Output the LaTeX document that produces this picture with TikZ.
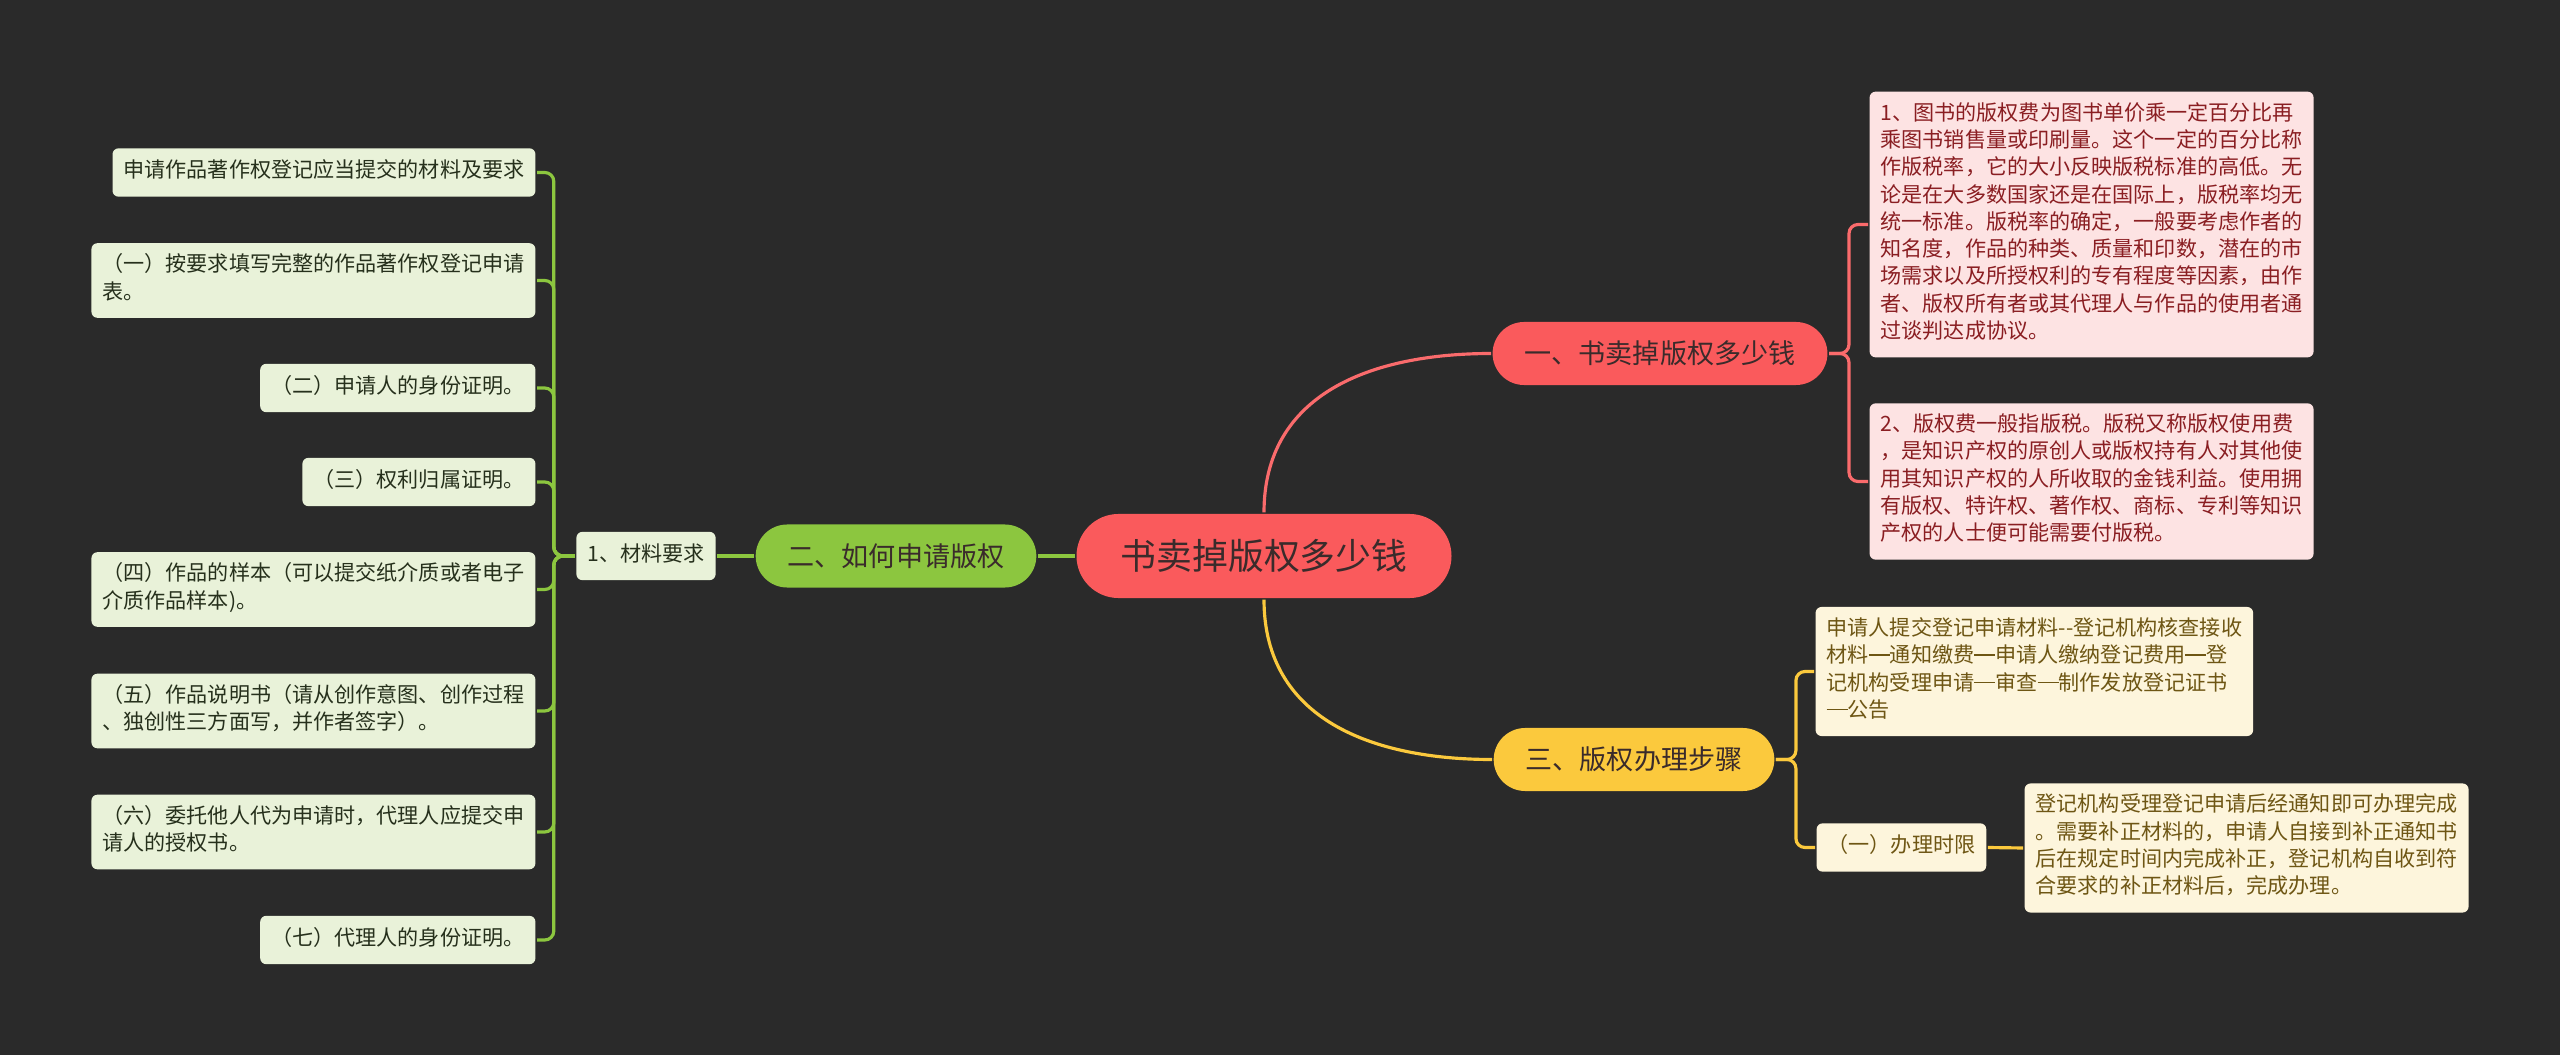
\documentclass[tikz,border=0pt]{standalone}
\usepackage{fontspec}
\setmainfont{Noto Sans CJK SC}
\usepackage{xcolor}
\usepackage{tikz}
\usetikzlibrary{positioning}
\definecolor{MapBg}{HTML}{2A2A2A}
\definecolor{MapRed}{HTML}{FA5A5C}
\definecolor{MapGreen}{HTML}{8CC63F}
\definecolor{MapYellow}{HTML}{FBC93D}
\definecolor{RedLeaf}{HTML}{FDE3E3}
\definecolor{GreenLeaf}{HTML}{E9F2D9}
\definecolor{YellowLeaf}{HTML}{FDF5DC}
\definecolor{RedInk}{HTML}{8A1E22}
\definecolor{GreenInk}{HTML}{26301C}
\definecolor{YellowInk}{HTML}{6E5614}
\definecolor{MapInk}{HTML}{3A2B2B}
\newcommand\wdash{\rule[0.33em]{1em}{0.07em}}

\begin{document}
\begin{tikzpicture}[x=0.01cm, y=-0.01cm, line width=0.9pt,
  root/.style={rounded corners=0.42cm, fill=MapRed, text=MapInk, minimum height=0.84cm, inner xsep=0.44cm, font=\fontsize{10.2}{12}\selectfont},
  topic/.style={rounded corners=0.315cm, minimum height=0.63cm, inner xsep=0.32cm, text=MapInk, font=\fontsize{7.7}{9}\selectfont},
  leaf/.style={rounded corners=0.06cm, align=left, inner xsep=0.11cm, inner ysep=0.105cm, font=\fontsize{6}{7.77}\selectfont, execute at begin node=\strut, execute at end node=\strut},
  redleaf/.style={leaf, fill=RedLeaf, text=RedInk},
  greenleaf/.style={leaf, fill=GreenLeaf, text=GreenInk},
  yellowleaf/.style={leaf, fill=YellowLeaf, text=YellowInk},
  redline/.style={draw=MapRed!90!white, rounded corners=0.09cm},
  greenline/.style={draw=MapGreen, rounded corners=0.09cm},
  yellowline/.style={draw=MapYellow, rounded corners=0.09cm}]

\fill[MapBg] (0,0) rectangle (2560,1055);

\node[root] (root) at (1264,556) {书卖掉版权多少钱};
\node[topic, fill=MapRed] (b1) at (1660,353.5) {一、书卖掉版权多少钱};
\node[topic, fill=MapGreen] (b2) at (896,556) {二、如何申请版权};
\node[topic, fill=MapYellow] (b3) at (1634,759.5) {三、版权办理步骤};

% branch one
\node[redleaf, anchor=west] (r1) at (1868,224.5) {1、图书的版权费为图书单价乘一定百分比再\\乘图书销售量或印刷量。这个一定的百分比称\\作版税率，它的大小反映版税标准的高低。无\\论是在大多数国家还是在国际上，版税率均无\\统一标准。版税率的确定，一般要考虑作者的\\知名度，作品的种类、质量和印数，潜在的市\\场需求以及所授权利的专有程度等因素，由作\\者、版权所有者或其代理人与作品的使用者通\\过谈判达成协议。};
\node[redleaf, anchor=west] (r2) at (1868,481.5) {2、版权费一般指版税。版税又称版权使用费\\，是知识产权的原创人或版权持有人对其他使\\用其知识产权的人所收取的金钱利益。使用拥\\有版权、特许权、著作权、商标、专利等知识\\产权的人士便可能需要付版税。};
\draw[redline] (root.north) to[out=90, in=180, looseness=1.1] (b1.west);
\draw[redline] (b1.east) -- ++(20,0) |- (r1.west);
\draw[redline] (b1.east) -- ++(20,0) |- (r2.west);

% branch two
\node[greenleaf] (mat) at (646,556) {1、材料要求};
\node[greenleaf, anchor=east] (l1) at (537,172.5) {申请作品著作权登记应当提交的材料及要求};
\node[greenleaf, anchor=east] (l2) at (537,280.5) {（一）按要求填写完整的作品著作权登记申请\\表。};
\node[greenleaf, anchor=east] (l3) at (537,388) {（二）申请人的身份证明。};
\node[greenleaf, anchor=east] (l4) at (537,482) {（三）权利归属证明。};
\node[greenleaf, anchor=east] (l5) at (537,589.5) {（四）作品的样本（可以提交纸介质或者电子\\介质作品样本)。};
\node[greenleaf, anchor=east] (l6) at (537,711) {（五）作品说明书（请从创作意图、创作过程\\、独创性三方面写，并作者签字）。};
\node[greenleaf, anchor=east] (l7) at (537,832) {（六）委托他人代为申请时，代理人应提交申\\请人的授权书。};
\node[greenleaf, anchor=east] (l8) at (537,940) {（七）代理人的身份证明。};
\draw[greenline] (root.west) -- (b2.east);
\draw[greenline] (b2.west) -- (mat.east);
\foreach \n in {l1,l2,l3,l4,l5,l6,l7,l8}
  \draw[greenline] (mat.west) -- ++(-21,0) |- (\n.east);

% branch three
\node[yellowleaf, anchor=west] (y1) at (1814,671.5) {申请人提交登记申请材料-{}-登记机构核查接收\\材料\wdash 通知缴费\wdash 申请人缴纳登记费用\wdash 登\\记机构受理申请\wdash 审查\wdash 制作发放登记证书\\\wdash 公告};
\node[yellowleaf, anchor=west] (t1) at (1815,847.5) {（一）办理时限};
\node[yellowleaf, anchor=west] (t2) at (2023,848) {登记机构受理登记申请后经通知即可办理完成\\。需要补正材料的，申请人自接到补正通知书\\后在规定时间内完成补正，登记机构自收到符\\合要求的补正材料后，完成办理。};
\draw[yellowline] (root.south) to[out=-90, in=180, looseness=1.1] (b3.west);
\draw[yellowline] (b3.east) -- ++(20,0) |- (y1.west);
\draw[yellowline] (b3.east) -- ++(20,0) |- (t1.west);
\draw[yellowline] (t1.east) -- (t2.west);
\end{tikzpicture}
\end{document}
